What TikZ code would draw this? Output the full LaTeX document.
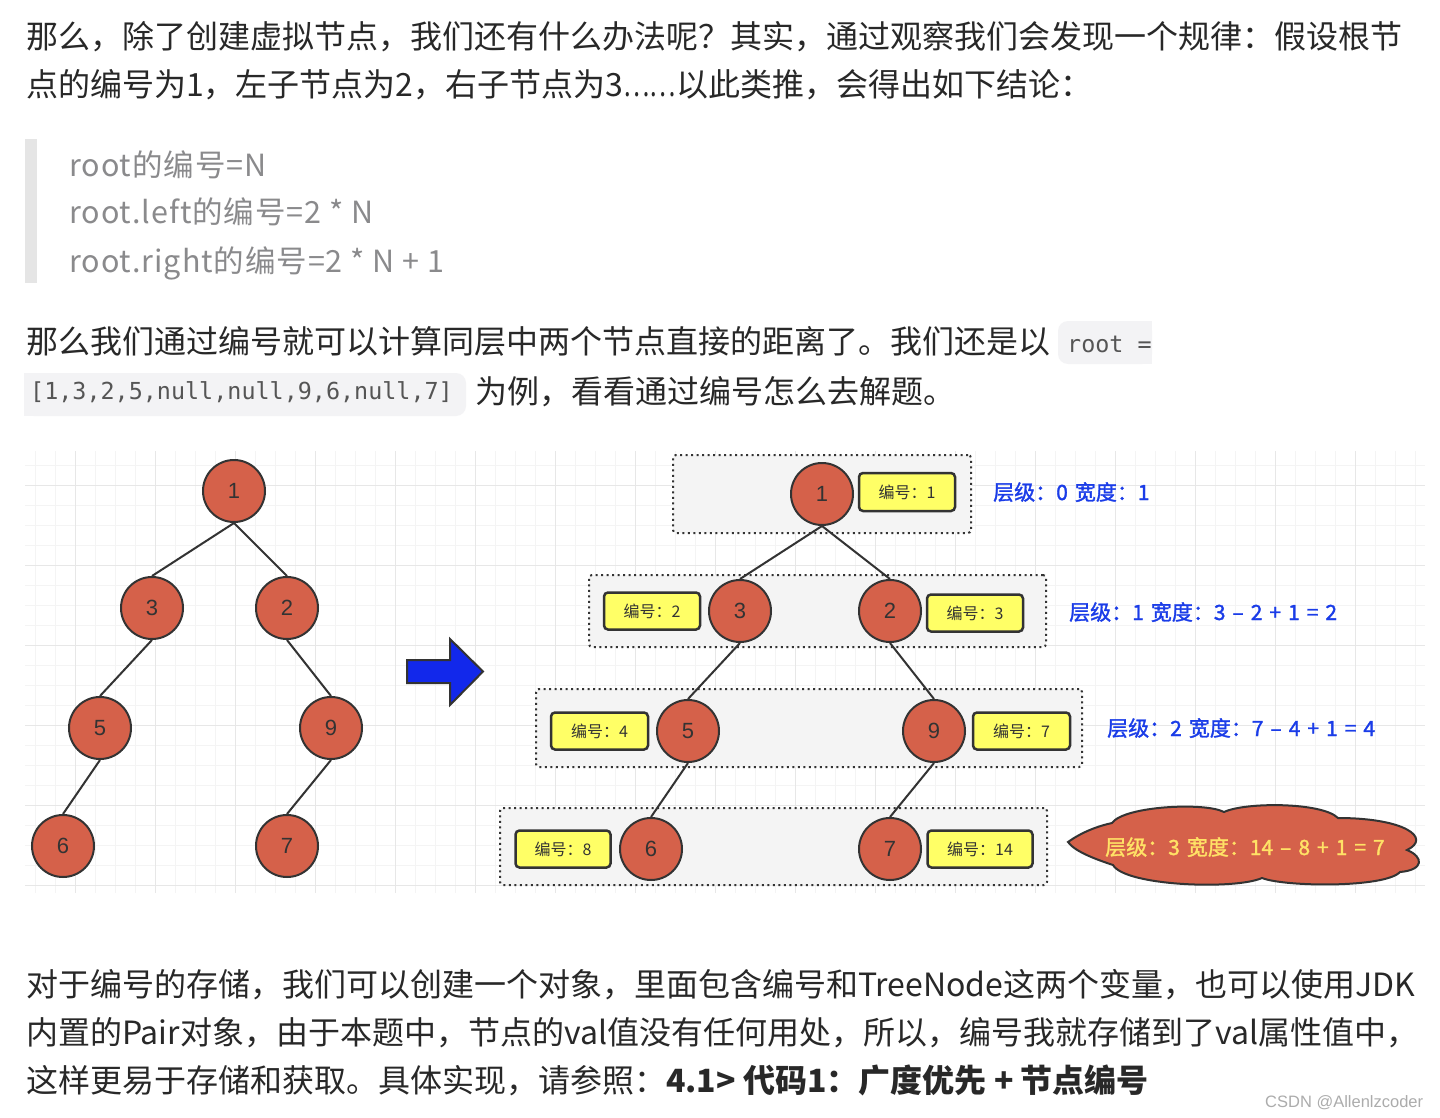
\documentclass[tikz,border=0pt]{standalone}
\usepackage{fontspec}
\usepackage{graphicx}
\setmainfont{Noto Sans CJK SC}
\newfontfamily\codefont{DejaVu Sans Mono}
\newfontfamily\medfont[FakeBold=1.5]{Noto Sans CJK SC}
\newfontfamily\quotefont[LetterSpace=3]{Noto Sans CJK SC}
\newfontfamily\numfont{Liberation Sans}
\newfontfamily\wmfont{Liberation Sans}
\newcommand\lvlfont{\medfont\fontsize{21}{21}\selectfont\spaceskip=7pt\relax}
\definecolor{bodyc}{RGB}{40,40,40}
\definecolor{quotec}{RGB}{138,138,140}
\definecolor{quotebar}{RGB}{229,229,229}
\definecolor{codebg}{RGB}{243,243,245}
\definecolor{codec}{RGB}{85,85,85}
\definecolor{linec}{RGB}{51,51,51}
\definecolor{nodered}{RGB}{213,97,74}
\definecolor{yel}{RGB}{255,255,102}
\definecolor{lvlfill}{RGB}{244,244,244}
\definecolor{bluec}{RGB}{26,60,232}
\definecolor{cloudtext}{RGB}{255,226,102}
\definecolor{arrowblue}{RGB}{18,40,235}
\definecolor{gridminor}{RGB}{244,244,244}
\definecolor{gridmajor}{RGB}{231,231,231}
\definecolor{wmc}{RGB}{172,172,172}
\tikzset{
  bodytext/.style={anchor=base west, inner sep=0pt, text=bodyc, font=\fontsize{32}{38}\selectfont},
  quotetext/.style={anchor=base west, inner sep=0pt, text=quotec, font=\quotefont\fontsize{30.5}{36}\selectfont},
  codetext/.style={anchor=base west, inner sep=0pt, text=codec, font=\codefont\fontsize{23.4}{28}\selectfont},
  tnode/.style={circle, draw=linec, line width=2pt, fill=nodered, minimum size=62pt, inner sep=0pt, text=linec, font=\numfont\fontsize{22}{22}\selectfont},
  numlbl/.style={rectangle, rounded corners=4pt, draw=linec, line width=2.5pt, fill=yel, inner sep=0pt, minimum height=37pt, text=linec, font=\fontsize{16}{16}\selectfont},
  lvlbox/.style={rectangle, rounded corners=3pt, draw=linec, line width=2pt, dash pattern=on 2pt off 3.5pt, fill=lvlfill, inner sep=0pt},
  lvltext/.style={anchor=base west, inner sep=0pt, text=bluec, font=\lvlfont},
  edge/.style={draw=linec, line width=2pt},
  gminor/.style={draw=gridminor, line width=1pt},
  gmajor/.style={draw=gridmajor, line width=1pt}
}
\begin{document}
\begin{tikzpicture}[x=1pt,y=-1pt]
\path[use as bounding box, fill=white] (0,0) rectangle (1440,1118);

% ---------- paragraph 1 ----------
\node[bodytext] (p1a) at (26,49) {那么，除了创建虚拟节点，我们还有什么办法呢？其实，通过观察我们会发现一个规律：假设根节};
\node[bodytext] (p1b) at (26,97) {点的编号为1，左子节点为2，右子节点为3\scalebox{0.78}[1]{……}以此类推，会得出如下结论：};

% ---------- quote ----------
\fill[quotebar] (25,139) rectangle (37,283);
\node[quotetext] (q1) at (69,177) {root的编号=N};
\node[quotetext] (q2) at (69,223) {root.left的编号=2 * N};
\node[quotetext] (q3) at (69,272) {root.right的编号=2 * N + 1};

% ---------- paragraph 2 ----------
\fill[codebg, rounded corners=10pt] (1058,321) rectangle (1152,364);
\fill[codebg] (1130,321) rectangle (1152,364);
\fill[codebg, rounded corners=10pt] (24,373) rectangle (466,416);
\fill[codebg] (24,373) rectangle (50,416);
\node[bodytext] (p2a) at (26,353) {那么我们通过编号就可以计算同层中两个节点直接的距离了。我们还是以};
\node[codetext] (c1) at (1067,352) {root =};
\node[codetext] (c2) at (30,399) {[1,3,2,5,null,null,9,6,null,7]};
\node[bodytext] (p2b) at (475,403) {为例，看看通过编号怎么去解题。};

% ---------- grid ----------
\begin{scope}
\clip (25,451) rectangle (1425,893);
\foreach \x in {35,55,...,1415} \draw[gminor] (\x,451) -- (\x,893);
\foreach \y in {465,485,...,885} \draw[gminor] (25,\y) -- (1425,\y);
\foreach \x in {75,155,...,1395} \draw[gmajor] (\x,451) -- (\x,893);
\foreach \y in {485,565,...,885} \draw[gmajor] (25,\y) -- (1425,\y);
\end{scope}

% ---------- left tree ----------
\node[tnode] (a1) at (234,491) {1};
\node[tnode] (a3) at (152,608) {3};
\node[tnode] (a2) at (287,608) {2};
\node[tnode] (a5) at (100,728) {5};
\node[tnode] (a9) at (331,728) {9};
\node[tnode] (a6) at (63,846) {6};
\node[tnode] (a7) at (287,846) {7};
\draw[edge] (a1.south) -- (a3.north);
\draw[edge] (a1.south) -- (a2.north);
\draw[edge] (a3.south) -- (a5.north);
\draw[edge] (a2.south) -- (a9.north);
\draw[edge] (a5.south) -- (a6.north);
\draw[edge] (a9.south) -- (a7.north);

% ---------- blue arrow ----------
\filldraw[fill=arrowblue, draw=linec, line width=2pt, line join=miter]
  (407,660) -- (450,660) -- (450,639) -- (483,671.5) -- (450,705) -- (450,683) -- (407,683) -- cycle;

% ---------- level boxes ----------
\node[lvlbox, minimum width=298pt, minimum height=78pt] (lv0) at (822,494) {};
\node[lvlbox, minimum width=457pt, minimum height=72pt] (lv1) at (817.5,611) {};
\node[lvlbox, minimum width=546pt, minimum height=78pt] (lv2) at (809,728) {};
\node[lvlbox, minimum width=547pt, minimum height=77pt] (lv3) at (773.5,846.5) {};

% ---------- right tree ----------
\node[tnode] (b1) at (822,494) {1};
\node[tnode] (b3) at (740,611) {3};
\node[tnode] (b2) at (890,611) {2};
\node[tnode] (b5) at (688,731) {5};
\node[tnode] (b9) at (934,731) {9};
\node[tnode] (b6) at (651,849) {6};
\node[tnode] (b7) at (890,849) {7};
\draw[edge] (b1.south) -- (b3.north);
\draw[edge] (b1.south) -- (b2.north);
\draw[edge] (b3.south) -- (b5.north);
\draw[edge] (b2.south) -- (b9.north);
\draw[edge] (b5.south) -- (b6.north);
\draw[edge] (b9.south) -- (b7.north);

% ---------- number labels ----------
\node[numlbl, minimum width=96pt, minimum height=38pt] (n1) at (907,492) {编号：1};
\node[numlbl, minimum width=96pt] (n2) at (652,611) {编号：2};
\node[numlbl, minimum width=96pt] (n3) at (975,613) {编号：3};
\node[numlbl, minimum width=97pt] (n4) at (599.5,731) {编号：4};
\node[numlbl, minimum width=97pt] (n7) at (1021.5,731) {编号：7};
\node[numlbl, minimum width=95pt] (n8) at (563,849) {编号：8};
\node[numlbl, minimum width=105pt] (n14) at (980,849) {编号：14};

% ---------- level texts ----------
\node[lvltext] (t0) at (993,500) {层级：0 宽度：1};
\node[lvltext] (t1) at (1069,620) {层级：1 宽度：3 – 2 + 1 = 2};
\node[lvltext] (t2) at (1107,736) {层级：2 宽度：7 – 4 + 1 = 4};

% ---------- cloud ----------
\filldraw[fill=nodered, draw=linec, line width=2pt]
  (1068,842) .. controls (1082,832) and (1098,826) .. (1112,823)
  .. controls (1124,806) and (1205,802) .. (1224,812)
  .. controls (1245,802) and (1322,802) .. (1338,818)
  .. controls (1405,818) and (1432,838) .. (1407,850)
  .. controls (1424,857) and (1424,870) .. (1400,872)
  .. controls (1385,888) and (1285,887) .. (1262,878)
  .. controls (1235,890) and (1125,886) .. (1113,865)
  .. controls (1098,860) and (1075,852) .. (1068,842) -- cycle;
\node[lvltext, text=cloudtext] (t3) at (1105,855) {层级：3 宽度：14 – 8 + 1 = 7};

% ---------- paragraph 3 ----------
\node[bodytext] (p3a) at (26,996) {对于编号的存储，我们可以创建一个对象，里面包含编号和TreeNode这两个变量，也可以使用JDK};
\node[bodytext] (p3b) at (26,1044) {内置的Pair对象，由于本题中，节点的val值没有任何用处，所以，编号我就存储到了val属性值中，};
\node[bodytext] (p3c) at (26,1092) {这样更易于存储和获取。具体实现，请参照：\textbf{4.1> 代码1：广度优先 + 节点编号}};

\node[anchor=base west, inner sep=0pt, text=wmc, font=\wmfont\fontsize{16.5}{16.5}\selectfont] (wm) at (1265,1107) {CSDN @Allenlzcoder};
\end{tikzpicture}
\end{document}
